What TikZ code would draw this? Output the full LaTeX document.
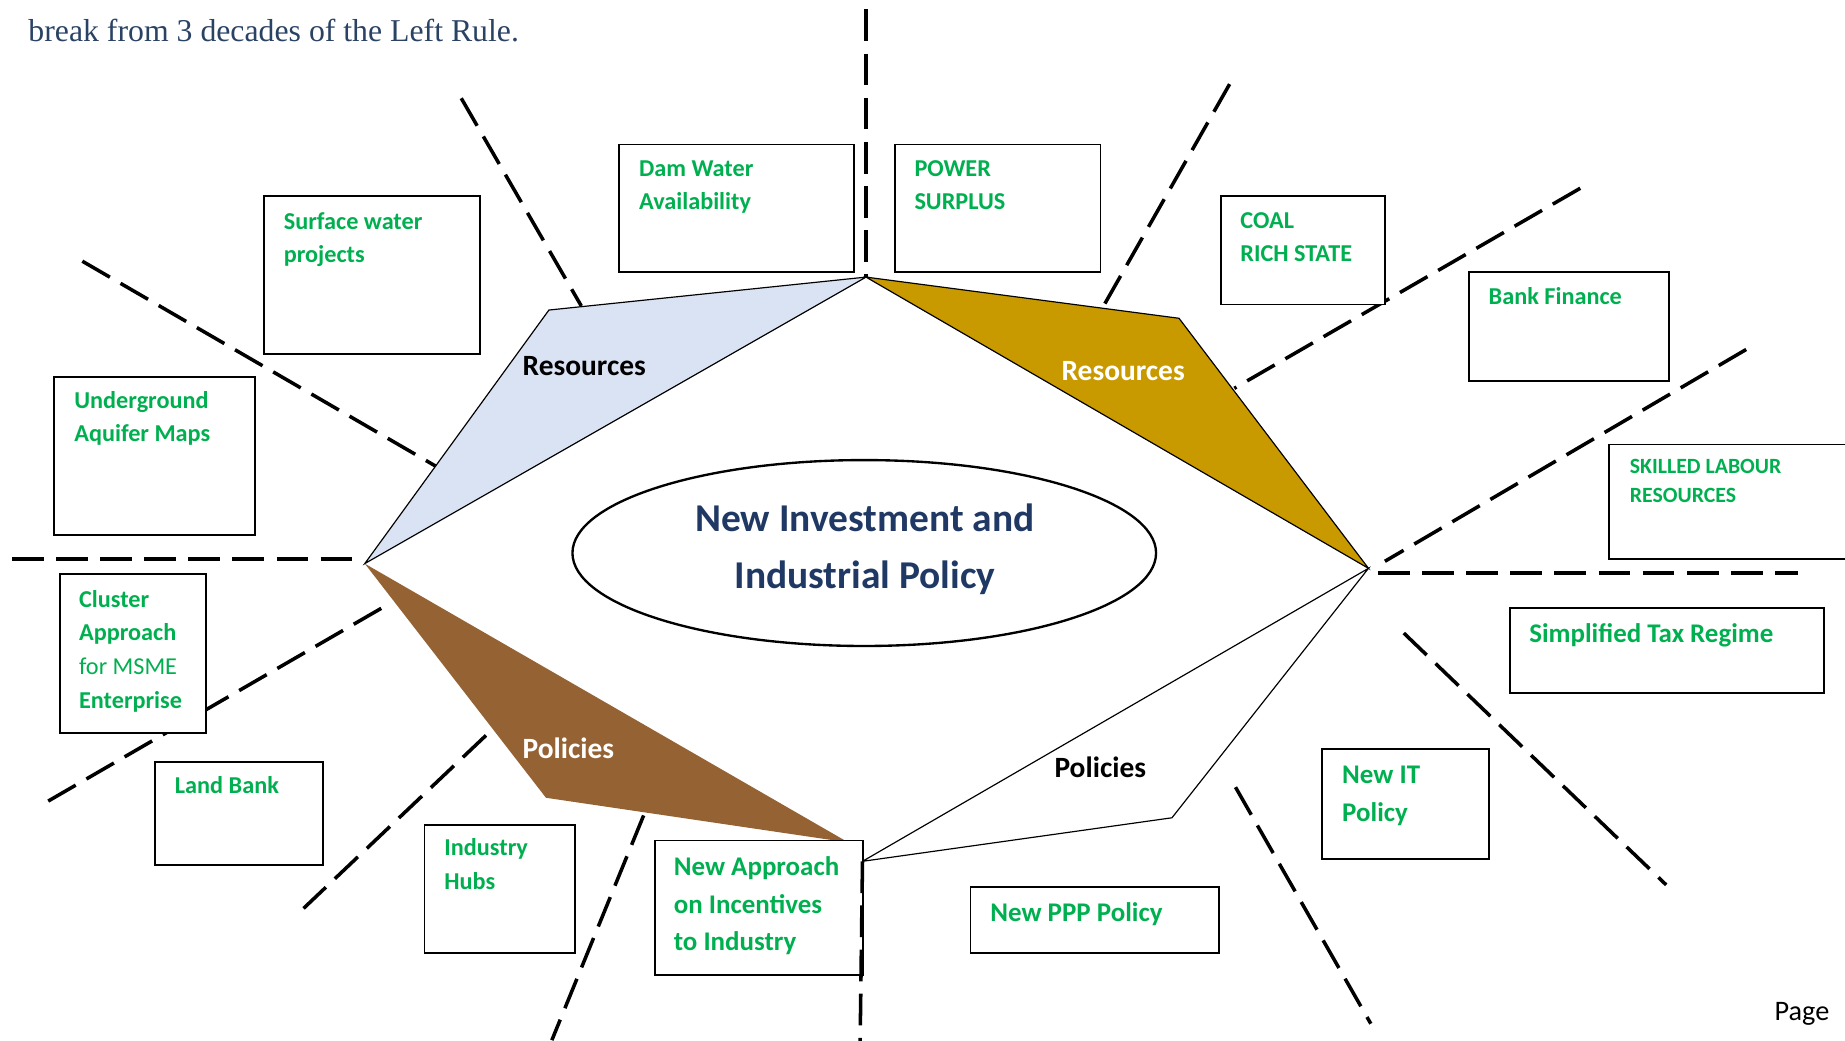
\documentclass[tikz,border=0pt]{standalone}
\usepackage{fontspec}
\usetikzlibrary{shapes.geometric}
\setmainfont{Carlito}
\newfontfamily\titleserif{Liberation Serif}
\definecolor{tgreen}{HTML}{00B050}
\definecolor{navy}{HTML}{1F3864}
\definecolor{titleblue}{HTML}{2A4264}
\definecolor{lblue}{HTML}{DAE3F3}
\definecolor{gold}{HTML}{C99A00}
\definecolor{brownp}{HTML}{956233}
\tikzset{
  dline/.style={line width=3pt, dash pattern=on 27pt off 10.5pt},
  box/.style={draw, line width=1.6pt, fill=white, inner sep=0pt, anchor=north west},
  gt/.style={anchor=base west, inner sep=0pt, text=tgreen, font=\fontsize{20.6}{24}\selectfont\bfseries},
  gtl/.style={gt, font=\fontsize{22.9}{26}\selectfont\bfseries},
  gts/.style={gt, font=\fontsize{18.5}{22}\selectfont\bfseries},
  gtn/.style={gt, font=\fontsize{20.6}{24}\selectfont},
  seglbl/.style={anchor=base west, inner sep=0pt, font=\fontsize{25}{29}\selectfont\bfseries},
  coretxt/.style={anchor=base, inner sep=0pt, text=navy, font=\fontsize{33.5}{38}\selectfont\bfseries},
  shapeline/.style={line width=1pt, line join=miter},
}
\begin{document}
\begin{tikzpicture}[x=1pt,y=-1pt]
\useasboundingbox (0,0) rectangle (1568,884.7);
\clip (0,0) rectangle (1568,884.7);

% hub coordinates
\coordinate (T) at (736,235.5);
\coordinate (L) at (310,479);
\coordinate (R) at (1163,483);
\coordinate (B) at (733,732);
\coordinate (blueV) at (466.5,263.5);
\coordinate (goldV) at (1002,270.5);
\coordinate (brownV) at (464,678);
\coordinate (brownT) at (721,716);
\coordinate (whiteV) at (996,695);

% dashed ray end points
\coordinate (a1) at (392,83.5);   \coordinate (a2) at (494,260);
\coordinate (b1) at (70,222);     \coordinate (b2) at (370,396);
\coordinate (v1) at (736,8);
\coordinate (c1) at (1045,71.5);  \coordinate (c2) at (939,258);
\coordinate (d1) at (1343,160);   \coordinate (d2) at (1049,330);
\coordinate (e1) at (1484,297);   \coordinate (e2) at (1177,477);
\coordinate (hl1) at (10,475);    \coordinate (hl2) at (307,475);
\coordinate (hr1) at (1171,487);  \coordinate (hr2) at (1528,487);
\coordinate (f1) at (324,517);    \coordinate (f2) at (32,686);
\coordinate (g1) at (413,625);    \coordinate (g2) at (258,772);
\coordinate (h1) at (547,693);    \coordinate (h2) at (469,884);
\coordinate (v2) at (731,885);
\coordinate (i1) at (1193,538);   \coordinate (i2) at (1416,752);
\coordinate (j1) at (1050,669);   \coordinate (j2) at (1165,870);

% dashed rays
\draw[dline] (a1) -- (a2);
\draw[dline] (b1) -- (b2);
\draw[dline] (v1) -- (T);
\draw[dline] (c1) -- (c2);
\draw[dline] (d1) -- (d2);
\draw[dline] (e1) -- (e2);
\draw[dline] (hl1) -- (hl2);
\draw[dline] (hr1) -- (hr2);
\draw[dline] (f1) -- (f2);
\draw[dline] (g1) -- (g2);
\draw[dline] (h1) -- (h2);
\draw[dline] (i1) -- (i2);
\draw[dline] (j1) -- (j2);

% four segments
\draw[shapeline, fill=lblue] (T) -- (blueV) -- (L) -- cycle;
\draw[shapeline, fill=gold] (T) -- (goldV) -- (R) -- cycle;
\fill[brownp] (L) -- (brownV) -- (brownT) -- cycle;
\draw[shapeline, fill=white] (R) -- (whiteV) -- (B) -- cycle;

% central ellipse
\node[draw, ellipse, line width=2pt, minimum width=496, minimum height=158, inner sep=0pt] (core) at (734.5,470) {};
\node[coretxt] (core1) at (735,452) {New Investment and};
\node[coretxt] (core2) at (735,500) {Industrial Policy};

% segment labels
\node[seglbl, text=black] (resL) at (444,319) {Resources};
\node[seglbl, text=white] (resR) at (902,323) {Resources};
\node[seglbl, text=white] (polL) at (444,645) {Policies};
\node[seglbl, text=black] (polR) at (896,661) {Policies};

% boxes
\node[box, minimum width=183.5, minimum height=134] (swb) at (223.5,166) {};
\node[box, minimum width=200, minimum height=108] (dwb) at (525,122) {};
\node[box, minimum width=175, minimum height=108] (pwb) at (759.5,122) {};
\node[box, minimum width=140, minimum height=92] (cob) at (1036.5,166) {};
\node[box, minimum width=170, minimum height=93] (bfb) at (1247.5,230) {};
\node[box, minimum width=230, minimum height=97] (slb) at (1366.5,377) {};
\node[box, minimum width=171, minimum height=134.5] (ugb) at (45,319.5) {};
\node[box, minimum width=124, minimum height=135] (clb) at (50,487) {};
\node[box, minimum width=143, minimum height=87] (lbb) at (131,647) {};
\node[box, minimum width=128, minimum height=109] (ihb) at (360,700) {};
\node[box, minimum width=177, minimum height=114] (nab) at (555.5,713.5) {};
\node[box, minimum width=267, minimum height=72] (stb) at (1282.5,516) {};
\node[box, minimum width=142, minimum height=93] (itb) at (1122.5,636) {};
\node[box, minimum width=211, minimum height=56] (ppb) at (824,753) {};

% bottom vertical dashed ray (drawn over box edge)
\draw[dline] (B) -- (v2);

% box texts
\node[gt] (sw1) at (241,195) {Surface water};
\node[gt] (sw2) at (241,223) {projects};
\node[gt] (dw1) at (543,150) {Dam Water};
\node[gt] (dw2) at (543,178) {Availability};
\node[gt] (pw1) at (777,150) {POWER};
\node[gt] (pw2) at (777,178) {SURPLUS};
\node[gt] (co1) at (1054,194) {COAL};
\node[gt] (co2) at (1054,222) {RICH STATE};
\node[gt] (bf1) at (1265,258.5) {Bank Finance};
\node[gts] (sl1) at (1385,402) {SKILLED LABOUR};
\node[gts] (sl2) at (1385,427) {RESOURCES};
\node[gt] (ug1) at (63,347) {Underground};
\node[gt] (ug2) at (63,375.5) {Aquifer Maps};
\node[gt] (cl1) at (67,516) {Cluster};
\node[gt] (cl2) at (67,544) {Approach};
\node[gtn] (cl3) at (67,573) {for MSME};
\node[gt] (cl4) at (67,602) {Enterprise};
\node[gt] (lb1) at (148.5,674) {Land Bank};
\node[gt] (ih1) at (377.5,727) {Industry};
\node[gt] (ih2) at (377.5,756) {Hubs};
\node[gtl] (na1) at (572.5,744) {New Approach};
\node[gtl] (na2) at (572.5,776) {on Incentives};
\node[gtl] (na3) at (572.5,808) {to Industry};
\node[gtl] (st1) at (1299.5,546) {Simplified Tax Regime};
\node[gtl] (it1) at (1140.5,666) {New IT};
\node[gtl] (it2) at (1140.5,698) {Policy};
\node[gtl] (pp1) at (841.5,783.5) {New PPP Policy};

% page texts
\node[anchor=base west, inner sep=0pt, text=titleblue, font=\titleserif\fontsize{27}{32}\selectfont] (title) at (24,35.5) {break from 3 decades of the Left Rule.};
\node[anchor=base west, inner sep=0pt, font=\fontsize{24}{28}\selectfont] (page) at (1508,867) {Page};
\end{tikzpicture}
\end{document}
